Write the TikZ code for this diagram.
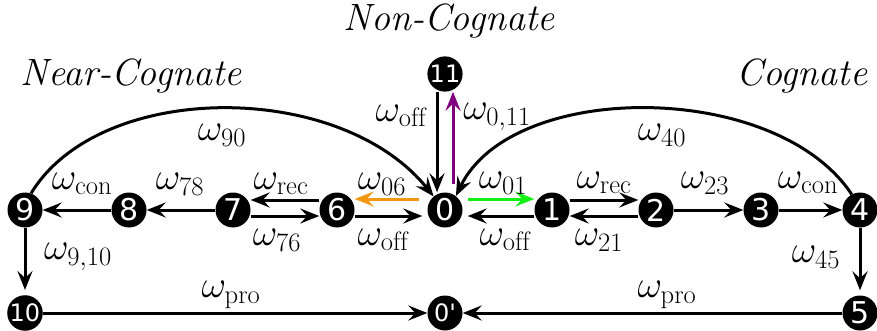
\RequirePackage{fix-cm}
\documentclass[tikz,border=0pt]{standalone}
\usepackage{fontspec}
\usetikzlibrary{arrows.meta}
\newfontfamily\digitfont{DejaVu Sans}
\definecolor{myorange}{RGB}{243,150,20}
\definecolor{mygreen}{RGB}{20,240,20}
\definecolor{mypurple}{RGB}{128,0,128}
\begin{document}
\begin{tikzpicture}[x=1pt,y=-1pt,
  st/.style={circle,fill=black,text=white,minimum size=35pt,inner sep=0pt,
    font=\digitfont\fontsize{30}{30}\selectfont},
  stsmall/.style={st,font=\digitfont\fontsize{24}{24}\selectfont},
  arr/.style={line width=3pt,-{Stealth[length=19pt,width=15pt,inset=7pt]}},
  lab/.style={font=\fontsize{38}{44}\selectfont,inner sep=0pt},
  ttl/.style={font=\fontsize{38}{44}\selectfont\itshape,inner sep=0pt},
]
\useasboundingbox (0,0) rectangle (877,331);

% states
\node[st] (n0) at (445,210) {0};
\node[st] (n1) at (552,210) {1};
\node[st] (n2) at (656,210) {2};
\node[st] (n3) at (761,210) {3};
\node[st] (n4) at (860,210) {4};
\node[st] (n5) at (860,313) {5};
\node[st] (n6) at (337,210) {6};
\node[st] (n7) at (233,210) {7};
\node[st] (n8) at (129,210) {8};
\node[st] (n9) at (25,210) {9};
\node[stsmall] (n10) at (25,313) {10};
\node[stsmall] (n11) at (445,74) {11};
\node[stsmall] (n0p) at (445,313) {0'};

% titles
\node[ttl] (tnon) at (449,21) {Non-Cognate};
\node[ttl] (tnear) at (131,76) {Near-Cognate};
\node[ttl] (tcog) at (802,76) {Cognate};

% arcs
\draw[arr] (n9.70) .. controls (100,80) and (340,80) .. (n0.130);
\draw[arr] (n4.118) .. controls (776,80) and (512,80) .. (n0.52);

% vertical around 0 and 11
\draw[arr] ([xshift=-8pt]n11.south) -- ([xshift=-8pt]n0.north);
\draw[arr,mypurple,shorten <=8pt] ([xshift=8pt]n0.north) -- ([xshift=8pt]n11.south);

% left chain
\draw[arr,myorange,shorten <=8pt] ([yshift=11pt]n0.west) -- ([yshift=11pt]n6.east);
\draw[arr,shorten >=5pt] ([yshift=-6pt]n6.east) -- ([yshift=-6pt]n0.west);
\draw[arr] ([yshift=10pt]n6.west) -- ([yshift=10pt]n7.east);
\draw[arr] ([yshift=-6pt]n7.east) -- ([yshift=-6pt]n6.west);
\draw[arr] (n7) -- (n8);
\draw[arr] (n8) -- (n9);
\draw[arr,shorten >=5pt] (n9) -- (n10);
\draw[arr] (n10) -- (n0p);

% right chain
\draw[arr,mygreen,shorten <=5pt] ([yshift=11pt]n0.east) -- ([yshift=11pt]n1.west);
\draw[arr,shorten >=5pt] ([yshift=-6pt]n1.west) -- ([yshift=-6pt]n0.east);
\draw[arr] ([yshift=10pt]n1.east) -- ([yshift=10pt]n2.west);
\draw[arr] ([yshift=-6pt]n2.west) -- ([yshift=-6pt]n1.east);
\draw[arr] (n2) -- (n3);
\draw[arr] (n3) -- (n4);
\draw[arr,shorten >=5pt] (n4) -- (n5);
\draw[arr] (n5) -- (n0p);

% labels
\node[lab] (l90) at (222,135) {$\omega_{90}$};
\node[lab] (l40) at (662,135) {$\omega_{40}$};
\node[lab] (loffa) at (401,116) {$\omega_{\mathrm{off}}$};
\node[lab] (l011) at (497,117) {$\omega_{0,11}$};
\node[lab] (lconl) at (82,184) {$\omega_{\mathrm{con}}$};
\node[lab] (l78) at (180,184) {$\omega_{78}$};
\node[lab] (lrecl) at (281,184) {$\omega_{\mathrm{rec}}$};
\node[lab] (l06) at (382,184) {$\omega_{06}$};
\node[lab] (l76) at (277,240) {$\omega_{76}$};
\node[lab] (loffl) at (383,240) {$\omega_{\mathrm{off}}$};
\node[lab] (l910) at (78,257) {$\omega_{9,10}$};
\node[lab] (lprol) at (231,295) {$\omega_{\mathrm{pro}}$};
\node[lab] (l01) at (503,183) {$\omega_{01}$};
\node[lab] (loffr) at (505,240) {$\omega_{\mathrm{off}}$};
\node[lab] (lrecr) at (604,183) {$\omega_{\mathrm{rec}}$};
\node[lab] (l21) at (599,240) {$\omega_{21}$};
\node[lab] (l23) at (705,183) {$\omega_{23}$};
\node[lab] (lconr) at (808,183) {$\omega_{\mathrm{con}}$};
\node[lab] (l45) at (816,257) {$\omega_{45}$};
\node[lab] (lpror) at (667,295) {$\omega_{\mathrm{pro}}$};
\end{tikzpicture}
\end{document}
